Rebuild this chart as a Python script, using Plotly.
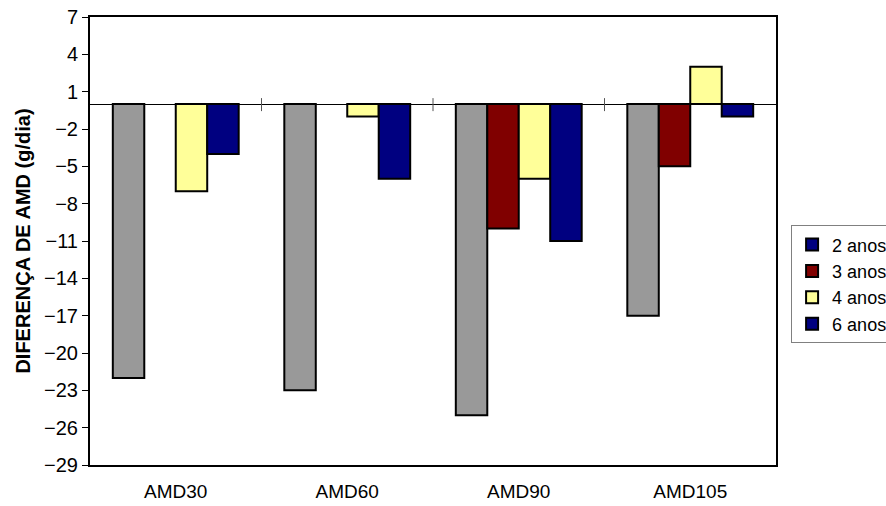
import plotly.graph_objects as go

categories = ["AMD30", "AMD60", "AMD90", "AMD105"]
serie_cinza = [-22, -23, -25, -17]
serie_3anos = [None, None, -10, -5]
serie_4anos = [-7, -1, -6, 3]
serie_6anos = [-4, -6, -11, -1]

legend_names = ["2 anos", "3 anos", "4 anos", "6 anos"]
legend_colors = ["#000080", "#800000", "#FFFF99", "#000080"]

y_ticks = list(range(-29, 8, 3))

FONT = "Liberation Sans, Arial, sans-serif"

fig = go.Figure()
bar_series = [
    (serie_cinza, "#999999"),
    (serie_3anos, "#800000"),
    (serie_4anos, "#FFFF99"),
    (serie_6anos, "#000080"),
]
for vals, col in bar_series:
    fig.add_trace(go.Bar(
        x=categories, y=vals,
        marker=dict(color=col, line=dict(color="black", width=2)),
        showlegend=False, hoverinfo="x+y",
    ))

for name, col in zip(legend_names, legend_colors):
    fig.add_trace(go.Scatter(
        x=[None], y=[None], mode="markers", name=name,
        marker=dict(symbol="square", size=12, color=col,
                    line=dict(color="black", width=1.5)),
    ))

# category boundary ticks crossing the zero line
for b in [0.5, 1.5, 2.5]:
    fig.add_shape(type="line", xref="x", yref="y", x0=b, x1=b,
                  ysizemode="pixel", yanchor=0, y0=-7, y1=6,
                  line=dict(color="#555555", width=1))

fig.update_layout(
    width=886, height=506,
    margin=dict(l=90, r=110, t=17, b=41, autoexpand=False),
    paper_bgcolor="white", plot_bgcolor="white",
    barmode="group", bargap=0.266, bargroupgap=0,
    font=dict(family=FONT, size=20, color="black"),
    legend=dict(x=1.022, y=0.535, xanchor="left", yanchor="top",
                bordercolor="#808080", borderwidth=1, bgcolor="white",
                font=dict(size=18), itemsizing="constant", itemwidth=30,
                tracegroupgap=0),
    xaxis=dict(showline=True, linecolor="black", linewidth=2, mirror=True,
               ticks="", showgrid=False, ticklabelstandoff=8,
               tickfont=dict(size=19), automargin=False),
    yaxis=dict(range=[-29, 7], tickvals=y_ticks, showline=True,
               linecolor="black", linewidth=2, mirror=True,
               ticks="outside", ticklen=6, tickcolor="black", tickwidth=1,
               showgrid=False, zeroline=True, zerolinecolor="black",
               zerolinewidth=1, automargin=False,
               title=dict(text="<b>DIFERENÇA DE AMD (g/dia)</b>",
                          font=dict(size=20), standoff=8),
               tickfont=dict(size=20)),
)

fig.write_html("out.html")
